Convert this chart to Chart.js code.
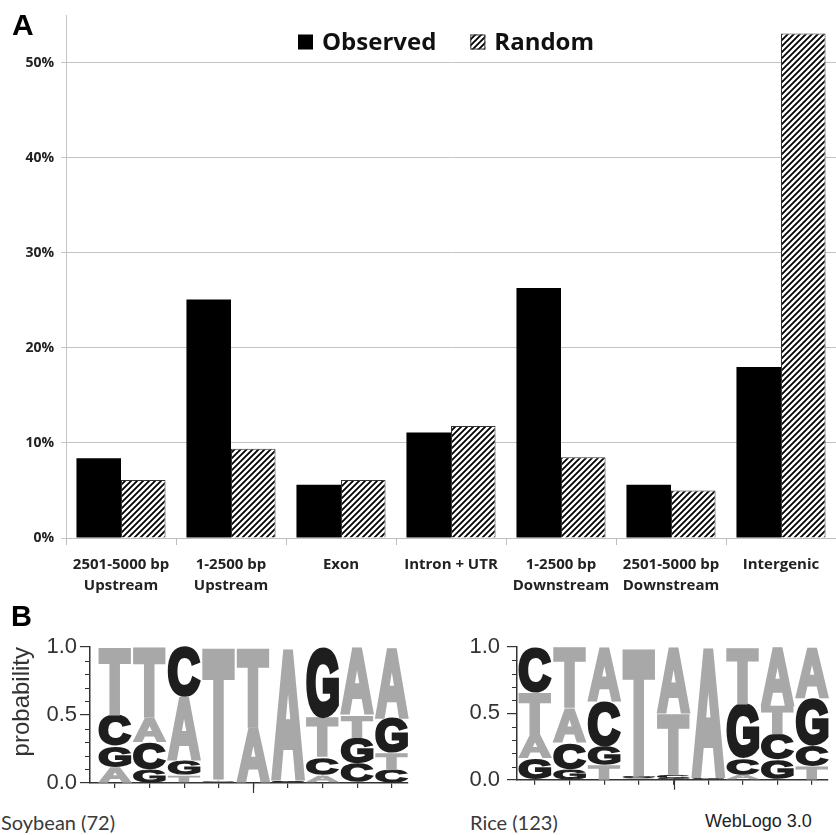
<!DOCTYPE html>
<html>
<head>
<meta charset="utf-8">
<script src="https://cdn.jsdelivr.net/npm/chart.js@4.4.1/dist/chart.umd.min.js"></script>
<style>
  body { margin: 0; background: #fff; }
  #wrap { position: relative; width: 836px; height: 835px; overflow: hidden; }
  canvas { position: absolute; }
  .lbl { position: absolute; white-space: nowrap; color: #3a3a3a; }
</style>
</head>
<body>
<div id="wrap">
  <canvas id="barChart" style="left:0;top:0" width="836" height="600"></canvas>
  <canvas id="soyLogo" style="left:0;top:600px" width="420" height="200"></canvas>
  <canvas id="riceLogo" style="left:420px;top:600px" width="416" height="200"></canvas>
  <div class="lbl" style="left:12px;top:10px;font:bold 30px 'Liberation Sans';line-height:30px;color:#000">A</div>
  <div class="lbl" style="left:11px;top:602px;font:bold 29px 'Liberation Sans';line-height:29px;color:#000">B</div>
  <div class="lbl" style="left:1px;top:810px;font:20px Lato;line-height:24px">Soybean (72)</div>
  <div class="lbl" style="left:470px;top:810px;font:20px Lato;line-height:24px">Rice (123)</div>
  <div class="lbl" style="left:705px;top:810px;font:18px 'Liberation Sans';line-height:22px;color:#222">WebLogo 3.0</div>
</div>
<script>
// Panel A: share of sites per genomic region (%)
var categories = [
  ['2501-5000 bp', 'Upstream'],
  ['1-2500 bp', 'Upstream'],
  'Exon',
  'Intron + UTR',
  ['1-2500 bp', 'Downstream'],
  ['2501-5000 bp', 'Downstream'],
  'Intergenic'
];
var observed = [8.4, 25.1, 5.6, 11.1, 26.3, 5.6, 18.0];
var random = [6.1, 9.4, 6.1, 11.8, 8.5, 5.0, 53.1];

// Panel B: letter probabilities per motif position
var positions = [1, 2, 3, 4, 5, 6, 7, 8, 9];
var soyA = [0.12, 0.18, 0.47, 0.01, 0.41, 0.98, 0.06, 0.50, 0.52];
var soyC = [0.23, 0.20, 0.37, 0.01, 0.00, 0.01, 0.13, 0.14, 0.10];
var soyG = [0.15, 0.10, 0.10, 0.00, 0.00, 0.01, 0.52, 0.19, 0.26];
var soyT = [0.50, 0.52, 0.06, 0.98, 0.59, 0.00, 0.29, 0.17, 0.12];
// stacking order of the letters, bottom to top, as printed
var soyOrder = ['AGCT', 'GCAT', 'TGAC', 'GCAT', 'CGAT', 'TCGA', 'ACTG', 'CGTA', 'CTGA'];
var riceA = [0.18, 0.26, 0.41, 0.01, 0.50, 0.99, 0.04, 0.45, 0.385];
var riceC = [0.34, 0.20, 0.34, 0.01, 0.025, 0.00, 0.12, 0.19, 0.155];
var riceG = [0.16, 0.08, 0.14, 0.01, 0.015, 0.01, 0.41, 0.15, 0.36];
var riceT = [0.32, 0.46, 0.11, 0.97, 0.46, 0.00, 0.43, 0.21, 0.10];
var riceOrder = ['GATC', 'GCAT', 'TGCA', 'ACGT', 'GCTA', 'TCGA', 'ACGT', 'GCTA', 'TCGA'];

function makeHatch() {
  var c = document.createElement('canvas');
  c.width = 6; c.height = 6;
  var g = c.getContext('2d');
  g.fillStyle = '#fff';
  g.fillRect(0, 0, 6, 6);
  g.strokeStyle = '#000';
  g.lineWidth = 1.8;
  g.beginPath();
  g.moveTo(-1, 7); g.lineTo(7, -1);
  g.moveTo(-1, 1); g.lineTo(1, -1);
  g.moveTo(5, 7); g.lineTo(7, 5);
  g.stroke();
  return g.createPattern(c, 'repeat');
}
var hatch = makeHatch();

// legend drawn inside the plot area
var floatLegend = {
  id: 'floatLegend',
  afterDraw: function(chart) {
    var ctx = chart.ctx;
    var x = 298, y = 42;
    ctx.save();
    ctx.font = 'bold 24px "Open Sans"';
    ctx.textBaseline = 'middle';
    chart.data.datasets.forEach(function(d, i) {
      ctx.fillStyle = d.backgroundColor;
      ctx.fillRect(x, y - 7.5, 15, 15);
      if (i === 1) {
        ctx.strokeStyle = '#333';
        ctx.lineWidth = 1;
        ctx.strokeRect(x + 0.5, y - 7, 14, 14);
      }
      ctx.fillStyle = '#111';
      ctx.fillText(d.label, x + 24, y + 1);
      x += 24 + ctx.measureText(d.label).width + 34;
    });
    ctx.restore();
  }
};

new Chart(document.getElementById('barChart'), {
  type: 'bar',
  data: {
    labels: categories,
    datasets: [
      { label: 'Observed', data: observed, backgroundColor: '#000', borderWidth: 0,
        categoryPercentage: 0.81, barPercentage: 1 },
      { label: 'Random', data: random, backgroundColor: hatch, borderColor: '#333', borderWidth: 1,
        categoryPercentage: 0.81, barPercentage: 1 }
    ]
  },
  options: {
    responsive: false,
    animation: false,
    devicePixelRatio: 1,
    layout: { padding: { top: 14, right: 0, bottom: 0, left: 0 } },
    plugins: { legend: { display: false }, tooltip: { enabled: false } },
    scales: {
      x: {
        grid: { offset: true, drawOnChartArea: false, tickLength: 7, color: '#bdbdbd' },
        border: { display: true, color: '#bdbdbd' },
        ticks: { padding: 9, color: '#222', maxRotation: 0, autoSkip: false,
                 font: { family: 'Open Sans', weight: 'bold', size: 15, lineHeight: 1.4 } },
        afterFit: function(s) { s.height = 62; }
      },
      y: {
        min: 0, max: 55,
        ticks: { stepSize: 10, includeBounds: false, padding: 7, color: '#222',
                 font: { family: 'Open Sans', weight: 'bold', size: 14 },
                 callback: function(v) { return v + '%'; } },
        grid: { color: '#c4c4c4', tickLength: 5 },
        border: { display: true, color: '#c4c4c4' },
        afterFit: function(s) { s.width = 66; }
      }
    }
  },
  plugins: [floatLegend]
});

// sequence logo: each stacked bar segment is drawn as a stretched letter
var letterColors = { A: '#a8a8a8', T: '#a8a8a8', C: '#1e1e1e', G: '#1e1e1e' };
var logoLetters = {
  id: 'logoLetters',
  afterDatasetsDraw: function(chart) {
    var ctx = chart.ctx;
    var L = 7; // extra weight, in glyph units of the 100px font
    ctx.save();
    ctx.font = 'bold 100px "Liberation Sans"';
    ctx.textAlign = 'left';
    ctx.textBaseline = 'alphabetic';
    ctx.lineJoin = 'miter';
    chart.data.datasets.forEach(function(ds, di) {
      chart.getDatasetMeta(di).data.forEach(function(bar, i) {
        var p = bar.getProps(['x', 'y', 'base', 'width'], true);
        var top = Math.min(p.y, p.base), h = Math.abs(p.base - p.y);
        if (h < 0.6) return;
        var letter = ds.letters[i];
        var m = ctx.measureText(letter);
        var gw = m.actualBoundingBoxLeft + m.actualBoundingBoxRight + L;
        var gh = m.actualBoundingBoxAscent + m.actualBoundingBoxDescent + L;
        ctx.save();
        ctx.translate(p.x - p.width / 2, top);
        ctx.scale(p.width / gw, h / gh);
        ctx.fillStyle = letterColors[letter];
        ctx.strokeStyle = letterColors[letter];
        ctx.lineWidth = L;
        ctx.fillText(letter, m.actualBoundingBoxLeft + L / 2, m.actualBoundingBoxAscent + L / 2);
        ctx.strokeText(letter, m.actualBoundingBoxLeft + L / 2, m.actualBoundingBoxAscent + L / 2);
        ctx.restore();
      });
    });
    ctx.restore();
  }
};

// minor ticks on the probability axis and the longer middle tick on x
var logoTicks = {
  id: 'logoTicks',
  afterDraw: function(chart) {
    var ctx = chart.ctx, ys = chart.scales.y, xs = chart.scales.x;
    ctx.save();
    ctx.strokeStyle = '#333';
    ctx.lineWidth = 1.2;
    ctx.beginPath();
    for (var v = 1; v < 10; v++) {
      if (v === 5) continue;
      var py = Math.round(ys.getPixelForValue(v / 10)) + 0.5;
      ctx.moveTo(ys.right - 5, py);
      ctx.lineTo(ys.right, py);
    }
    var px = Math.round(xs.getPixelForValue(5)) + 0.5;
    ctx.moveTo(px, xs.top);
    ctx.lineTo(px, xs.top + 10);
    ctx.stroke();
    ctx.restore();
  }
};

function buildLogo(id, probs, order, o) {
  var ranks = [0, 1, 2, 3].map(function() { return { data: [], letters: [] }; });
  positions.forEach(function(pos, i) {
    order[i].split('').forEach(function(l, r) {
      ranks[r].data.push({ x: pos, y: probs[l][i] });
      ranks[r].letters.push(l);
    });
  });
  new Chart(document.getElementById(id), {
    type: 'bar',
    data: {
      datasets: ranks.map(function(r, k) {
        return { label: 'layer ' + k, data: r.data, letters: r.letters,
                 backgroundColor: 'rgba(0,0,0,0)', borderWidth: 0,
                 barPercentage: 0.95, categoryPercentage: 1 };
      })
    },
    options: {
      responsive: false,
      animation: false,
      devicePixelRatio: 1,
      layout: { padding: { top: 47, right: o.right, bottom: 0, left: 0 } },
      plugins: { legend: { display: false }, tooltip: { enabled: false } },
      scales: {
        x: {
          type: 'linear', stacked: true, offset: false, min: o.xmin, max: o.xmax,
          ticks: { display: false, stepSize: 1, includeBounds: false },
          grid: { offset: false, drawOnChartArea: false, tickLength: 5, color: '#333', lineWidth: 1.2 },
          border: { display: true, color: '#333', width: 1.5 },
          afterFit: function(s) { s.height = 17; }
        },
        y: {
          stacked: true, min: 0, max: 1,
          ticks: { stepSize: 0.5, padding: o.pad, color: '#333',
                   font: { family: 'Liberation Sans', size: 22 },
                   callback: function(v) { return v.toFixed(1); } },
          grid: { drawOnChartArea: false, tickLength: 10, color: '#333', lineWidth: 1.2 },
          border: { display: true, color: '#333', width: 1.5 },
          title: { display: !!o.title, text: o.title || '', color: '#333', align: 'end',
                   font: { family: 'Liberation Sans', size: 24 },
                   padding: { top: 8, bottom: 0 } },
          afterFit: function(s) { s.width = o.axisW; }
        }
      }
    },
    plugins: [logoLetters, logoTicks]
  });
}

buildLogo('soyLogo', { A: soyA, C: soyC, G: soyG, T: soyT }, soyOrder,
  { axisW: 90, right: 12, xmin: 0.28, xmax: 9.47, pad: 3, title: 'probability' });
buildLogo('riceLogo', { A: riceA, C: riceC, G: riceG, T: riceT }, riceOrder,
  { axisW: 97, right: 8, xmin: 0.48, xmax: 9.46, pad: 7 });
</script>
</body>
</html>
